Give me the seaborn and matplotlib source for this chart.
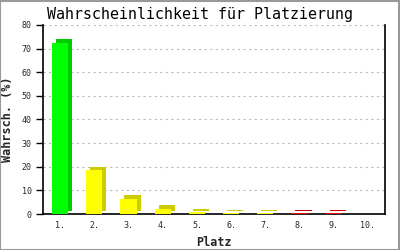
import matplotlib
matplotlib.use("Agg")
import matplotlib.pyplot as plt
import matplotlib.transforms as mtransforms
import seaborn as sns
import pandas as pd

places = ["1.", "2.", "3.", "4.", "5.", "6.", "7.", "8.", "9.", "10."]
values = [72.5, 18.6, 6.4, 2.2, 0.8, 0.3, 0.3, 0.3, 0.3, 0.0]
front_colors = ["#00ff00", "#ffff00", "#ffff00", "#ffff00", "#ffff00",
                "#ffff00", "#ffff00", "#ff0000", "#ff0000", "#ff0000"]
side_colors = ["#00cc00", "#cccc00", "#cccc00", "#cccc00", "#cccc00",
               "#cccc00", "#cccc00", "#cc0000", "#cc0000", "#cc0000"]

sns.set_style("white")
plt.rcParams["font.family"] = ["DejaVu Sans Mono"]

df = pd.DataFrame({"Platz": places, "Wert": values})

fig = plt.figure(figsize=(4, 2.5), dpi=100)
fig.patch.set_facecolor("white")
ax = fig.add_axes([0.1075, 0.144, 0.855, 0.756])

# depth (3D side/top) bars, shifted up-right
sns.barplot(data=df, x="Platz", y="Wert", hue="Platz", palette=side_colors,
            legend=False, width=0.47, ax=ax, saturation=1, linewidth=0, zorder=2)
n_side = len(ax.patches)
offset = mtransforms.ScaledTranslation(4 / 100, 3.5 / 100, fig.dpi_scale_trans)
for p in ax.patches[:n_side]:
    p.set_transform(ax.transData + offset)
    p.set_clip_on(True)

# front bars
sns.barplot(data=df, x="Platz", y="Wert", hue="Platz", palette=front_colors,
            legend=False, width=0.47, ax=ax, saturation=1, linewidth=0, zorder=3)

ax.set_ylim(0, 80)
ax.set_xlim(-0.5, 9.5)
ax.set_yticks(range(0, 81, 10))
ax.yaxis.grid(True, color="#bbbbbb", linestyle=(0, (2, 3)), linewidth=0.8)
ax.set_axisbelow(True)

for s in ["left", "bottom", "right"]:
    ax.spines[s].set_color("black")
    ax.spines[s].set_linewidth(1.2)
ax.spines["top"].set_visible(False)

ax.tick_params(axis="y", length=5, width=1, color="black", labelsize=6, pad=3, left=True)
ax.tick_params(axis="x", length=0, labelsize=6, pad=5)

ax.set_xlabel("Platz", fontsize=8.5, fontweight="bold", labelpad=4)
ax.set_ylabel("Wahrsch. (%)", fontsize=8.5, fontweight="bold", labelpad=6)

fig.text(0.5, 0.922, "Wahrscheinlichkeit für Platzierung", ha="center", va="baseline",
         fontsize=10.8, color="black")

fig.add_artist(plt.Rectangle((0.001, 0.002), 0.997, 0.995, transform=fig.transFigure,
                             fill=False, edgecolor="#999999", linewidth=1.5))

fig.savefig("out.png", dpi=100)
